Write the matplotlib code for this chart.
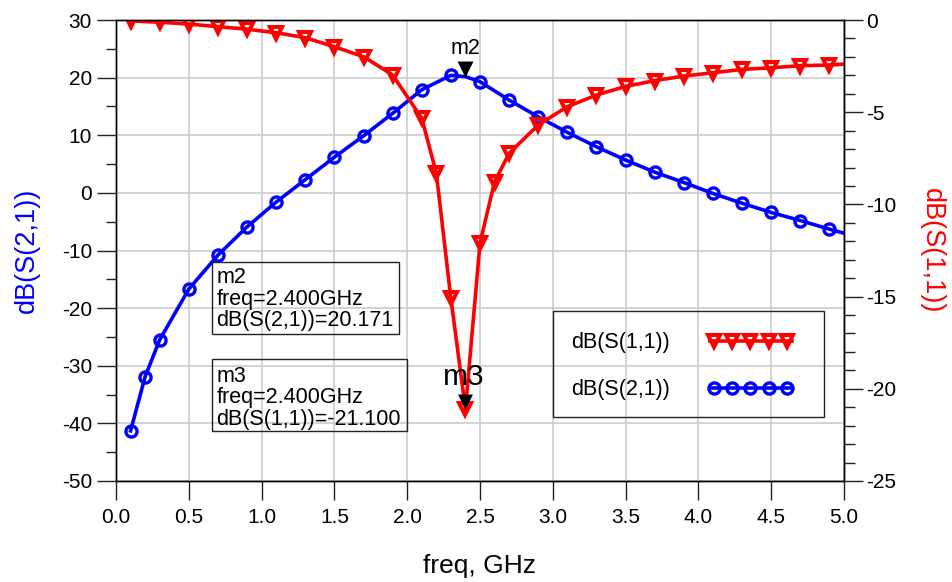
import numpy as np
import matplotlib
matplotlib.use("Agg")
import matplotlib.pyplot as plt
from matplotlib.ticker import MultipleLocator, FormatStrFormatter
from matplotlib.lines import Line2D
from matplotlib.patches import Rectangle
from matplotlib.path import Path

plt.rcParams["font.family"] = ["Liberation Sans", "DejaVu Sans"]
plt.rcParams["axes.unicode_minus"] = False

# ---- data -------------------------------------------------------------
s21_freq = [0.1, 0.2, 0.3, 0.5, 0.7, 0.9, 1.1, 1.3, 1.5, 1.7, 1.9, 2.1, 2.3, 2.4,
            2.5, 2.7, 2.9, 3.1, 3.3, 3.5, 3.7, 3.9, 4.1, 4.3, 4.5, 4.7, 4.9, 5.0]
s21_db = [-41.3, -31.9, -25.5, -16.7, -10.8, -5.9, -1.6, 2.3, 6.2, 9.9, 13.8, 17.9, 20.4, 20.171,
          19.3, 16.1, 13.2, 10.5, 8.0, 5.7, 3.6, 1.8, -0.1, -1.8, -3.4, -4.8, -6.3, -7.0]

s11_freq = [0.1, 0.3, 0.5, 0.7, 0.9, 1.1, 1.3, 1.5, 1.7, 1.9, 2.1, 2.2, 2.3, 2.4, 2.5,
            2.6, 2.7, 2.9, 3.1, 3.3, 3.5, 3.7, 3.9, 4.1, 4.3, 4.5, 4.7, 4.9, 5.0]
s11_db = [-0.05, -0.12, -0.22, -0.36, -0.50, -0.69, -0.96, -1.45, -1.99, -2.98, -5.33, -8.3, -15.1,
          -21.1, -12.1, -8.77, -7.23, -5.69, -4.7, -4.07, -3.6, -3.29, -3.04, -2.86, -2.68,
          -2.59, -2.48, -2.44, -2.39]

# points without a trace symbol
s21_unmarked = [2.4, 5.0]
s11_unmarked = [5.0]

# marker readouts
m2_freq, m2_val = 2.4, 20.171
m3_freq, m3_val = 2.4, -21.100

x_ticks = [0.0, 0.5, 1.0, 1.5, 2.0, 2.5, 3.0, 3.5, 4.0, 4.5, 5.0]
legend_labels = ["dB(S(1,1))", "dB(S(2,1))"]

BLUE = "#0000ff"
RED = "#ff0000"

# ---- figure -----------------------------------------------------------
W, H = 953, 582
fig = plt.figure(figsize=(W / 100, H / 100), dpi=100)
L, R, T, B = 116, 844, 20, 481
ax = fig.add_axes([L / W, (H - B) / H, (R - L) / W, (B - T) / H])
ax2 = ax.twinx()


def ax_frac(px, py):
    return (px - L) / (R - L), (B - py) / (B - T)


line_kw = dict(lw=2.6, solid_joinstyle="round")
circ_kw = dict(marker="o", ms=8.0, mew=2.4, mfc="none", mec=BLUE)
tri_kw = dict(marker="v", ms=8.4, mew=2.9, mfc="none", mec=RED)

# S(2,1) on the left axis
ax.plot(s21_freq, s21_db, color=BLUE, **line_kw)
s21_mk = [i for i, f in enumerate(s21_freq) if f not in s21_unmarked]
ax.plot([s21_freq[i] for i in s21_mk], [s21_db[i] for i in s21_mk], ls="none", **circ_kw)

# S(1,1) on the right axis
ax2.plot(s11_freq, s11_db, color=RED, **line_kw)
s11_mk = [i for i, f in enumerate(s11_freq) if f not in s11_unmarked]
ax2.plot([s11_freq[i] for i in s11_mk], [s11_db[i] for i in s11_mk], ls="none", **tri_kw)

# marker glyphs: black triangle with its tip on the trace
tip = Path([(-1, 2), (1, 2), (0, 0), (-1, 2)],
           [Path.MOVETO, Path.LINETO, Path.LINETO, Path.CLOSEPOLY])
ax.plot([m2_freq], [m2_val], ls="none", marker=tip, ms=23, color="black", mew=0, zorder=6)
ax2.plot([m3_freq], [m3_val], ls="none", marker=tip, ms=21.5, color="black", mew=0, zorder=6)
ax.annotate("m2", xy=(m2_freq, m2_val), xytext=(0, 22.5), textcoords="offset pixels",
            ha="center", va="baseline", fontsize=15.5, zorder=7)
ax2.annotate("m3", xy=(m3_freq, m3_val), xytext=(-2, 24), textcoords="offset pixels",
             ha="center", va="baseline", fontsize=21.5, zorder=7)

# ---- axes styling -----------------------------------------------------
ax.set_xlim(0, 5)
ax.set_ylim(-50, 30)
ax2.set_ylim(-25, 0)
ax.set_xticks(x_ticks)
ax.xaxis.set_major_formatter(FormatStrFormatter("%.1f"))
ax.yaxis.set_major_locator(MultipleLocator(10))
ax.yaxis.set_minor_locator(MultipleLocator(5))
ax2.yaxis.set_major_locator(MultipleLocator(5))
ax2.yaxis.set_minor_locator(MultipleLocator(1))

ax.grid(True, which="major", color="#cccccc", lw=1.2)
ax.set_axisbelow(True)

tick_kw = dict(direction="out", color="#222222", width=1.0, labelsize=15, labelcolor="black")
ax.tick_params(axis="x", which="major", length=13.7, pad=6.0, **tick_kw)
ax.tick_params(axis="y", which="major", length=13.7, pad=3.5, **tick_kw)
ax.tick_params(axis="y", which="minor", direction="out", length=7.2, width=1.0, color="#222222")
ax2.tick_params(axis="y", which="major", length=13.7, pad=2.5, **tick_kw)
ax2.tick_params(axis="y", which="minor", direction="out", length=7.6, width=1.0, color="#222222")

for a in (ax, ax2):
    for s in a.spines.values():
        s.set_color("black")
        s.set_linewidth(1.0)

ax.set_xlabel("freq, GHz", fontsize=19)
ax.xaxis.set_label_coords(0.5, -0.158)
ax.set_ylabel("dB(S(2,1))", color=BLUE, fontsize=19.5, va="center")
ax.yaxis.set_label_coords(ax_frac(27, 0)[0], 0.5)
ax2.set_ylabel("dB(S(1,1))", color=RED, fontsize=19.5, rotation=270, va="center")
ax2.yaxis.set_label_coords(ax_frac(932, 0)[0], 0.5)


# ---- boxes in pixel layout --------------------------------------------
def frame(x0, x1, ytop, ybot):
    fx0, fy0 = ax_frac(x0, ybot)
    fx1, fy1 = ax_frac(x1, ytop)
    ax2.add_patch(Rectangle((fx0, fy0), fx1 - fx0, fy1 - fy0, transform=ax2.transAxes,
                            fill=False, ec="#222222", lw=1.0, zorder=8, clip_on=False))


def label(txt, px, py, **kw):
    tx, ty = ax_frac(px, py)
    ax2.text(tx, ty, txt, transform=ax2.transAxes, ha="left", va="baseline",
             fontsize=15.5, zorder=8, **kw)


def readout(lines, x0, x1, ytop, ybot, baselines, text_x):
    frame(x0, x1, ytop, ybot)
    for txt, by in zip(lines, baselines):
        label(txt, text_x, by)


readout(["m2", "freq=%.3fGHz" % m2_freq, "dB(S(2,1))=%.3f" % m2_val],
        212.3, 399.3, 261.7, 334.3, [283.3, 304.5, 326.0], 216.5)
readout(["m3", "freq=%.3fGHz" % m3_freq, "dB(S(1,1))=%.3f" % m3_val],
        212.3, 406.7, 359.3, 431.0, [381.7, 403.3, 425.0], 216.5)

# ---- legend -----------------------------------------------------------
frame(553.3, 824.3, 310.7, 417.3)
sample_styles = [(RED, tri_kw, 340.5, 348.3), (BLUE, circ_kw, 388.3, 395.0)]
for name, (col, mk, row_y, base_y) in zip(legend_labels, sample_styles):
    label(name, 571.5, base_y)
    sx = [ax_frac(px, row_y)[0] for px in np.linspace(714, 787, 5)]
    sy = [ax_frac(0, row_y)[1]] * 5
    lx0, _ = ax_frac(710, row_y)
    lx1, _ = ax_frac(791.7, row_y)
    ax2.add_line(Line2D([lx0, lx1], [sy[0], sy[0]], color=col, lw=2.6,
                        transform=ax2.transAxes, zorder=9))
    ax2.add_line(Line2D(sx, sy, ls="none", transform=ax2.transAxes, zorder=9, **mk))

fig.savefig("out.png", dpi=100)
